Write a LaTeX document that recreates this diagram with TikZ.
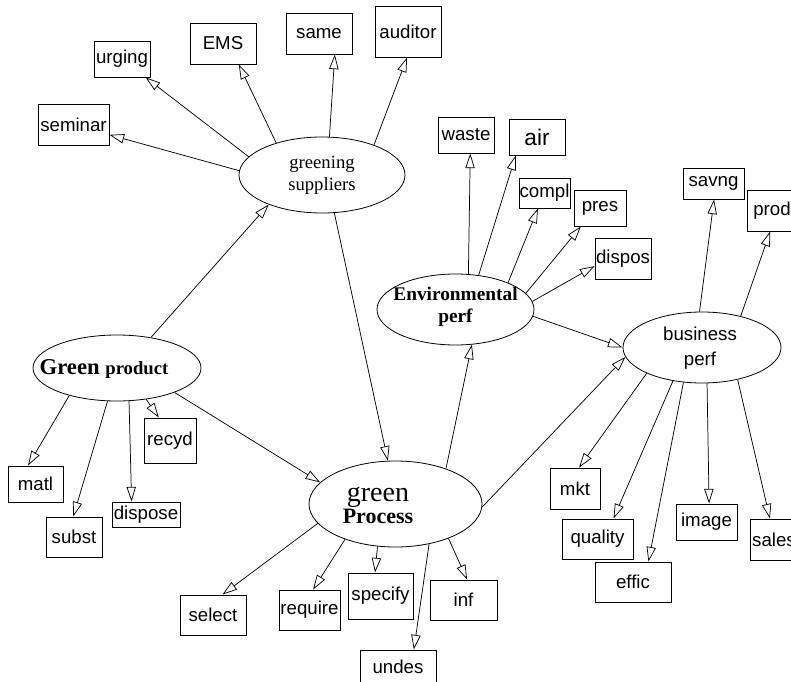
\documentclass[tikz,border=0pt]{standalone}
\usepackage{fontspec}
\setmainfont{Liberation Serif}
\setsansfont{Liberation Sans}
\usetikzlibrary{arrows.meta,shapes.geometric}

\tikzset{
  latent/.style={draw, ellipse, inner sep=0pt, line width=0.6pt},
  latentlbl/.style={align=center, inner sep=0pt, font=\fontsize{14}{16.5}\selectfont},
  item/.style={draw, rectangle, inner sep=0pt, line width=0.7pt, font=\sffamily\fontsize{14}{16}\selectfont},
  link/.style={draw, line width=0.55pt, -{Triangle[open,length=11pt,width=7pt]}}
}

\begin{document}
\begin{tikzpicture}[x=0.75pt, y=-0.75pt]

 \useasboundingbox (0,0) rectangle (791,681);

 % latent variables
 \node[latent, minimum width=124.5pt, minimum height=57pt] (gs) at (322,175) {};
 \node[latentlbl] (gstext) at (322,175) {greening\\suppliers};
 \node[latent, minimum width=117.75pt, minimum height=53.25pt] (env) at (455.5,309.5) {};
 \node[latentlbl, font=\bfseries\fontsize{14.5}{16.5}\selectfont] (envtext) at (455.5,307) {Environmental\\perf};
 \node[latent, minimum width=118.5pt, minimum height=53.25pt] (bus) at (702,347.5) {};
 \node[latentlbl, font=\sffamily\fontsize{14}{18.5}\selectfont] (bustext) at (700,348) {business\\perf};
 \node[latent, minimum width=126pt, minimum height=49.5pt] (gp) at (117,368) {};
 \node[latentlbl, font=\bfseries] (gptext) at (104,369) {\fontsize{17}{19}\selectfont Green \fontsize{14}{16}\selectfont product};
 \node[latent, minimum width=129.75pt, minimum height=64.5pt] (proc) at (395.5,504) {};
 \node[latentlbl] (proctext) at (378,505) {\fontsize{21}{17}\selectfont green\\\fontsize{16.5}{17}\selectfont\bfseries Process};

 % observed items
 \node[item, minimum width=53.25pt, minimum height=30.75pt] (seminar) at (73.5,124.5) {seminar};
 \node[item, minimum width=42pt, minimum height=27pt] (urging) at (122,59) {urging};
 \node[item, minimum width=49.5pt, minimum height=30.75pt] (ems) at (223,43.5) {EMS};
 \node[item, minimum width=49.5pt, minimum height=30.75pt] (same) at (319,33.5) {same};
 \node[item, minimum width=49.5pt, minimum height=38.25pt] (auditor) at (408,31.5) {auditor};
 \node[item, minimum width=42pt, minimum height=27pt] (waste) at (466,135) {waste};
 \node[item, minimum width=42pt, minimum height=27pt, font=\sffamily\fontsize{17}{19}\selectfont] (air) at (537,137) {air};
 \node[item, minimum width=38.25pt, minimum height=22.5pt] (compl) at (544.5,193) {compl};
 \node[item, minimum width=39pt, minimum height=27pt] (pres) at (600,208) {pres};
 \node[item, minimum width=42pt, minimum height=30.75pt] (dispos) at (623,258.5) {dispos};
 \node[item, minimum width=45.75pt, minimum height=23.25pt] (savng) at (713.5,183.5) {savng};
 \node[item, minimum width=37.5pt, minimum height=30.75pt] (prod) at (772,210.5) {prod};
 \node[item, minimum width=39pt, minimum height=33.75pt] (recyd) at (170,440.5) {recyd};
 \node[item, minimum width=41.25pt, minimum height=27pt] (matl) at (35.5,484) {matl};
 \node[item, minimum width=51pt, minimum height=18.75pt] (dispose) at (146,514.5) {dispose};
 \node[item, minimum width=42pt, minimum height=30pt] (subst) at (74,537) {subst};
 \node[item, minimum width=49.5pt, minimum height=30pt] (select) at (213,615) {select};
 \node[item, minimum width=45.75pt, minimum height=30pt] (require) at (309.5,610) {require};
 \node[item, minimum width=48.75pt, minimum height=34.5pt] (specify) at (380.5,596) {specify};
 \node[item, minimum width=50.25pt, minimum height=30pt] (inf) at (463.5,600) {inf};
 \node[item, minimum width=57pt, minimum height=24.75pt] (undes) at (398,666.5) {undes};
 \node[item, minimum width=37.5pt, minimum height=30.75pt] (mkt) at (575,488.5) {mkt};
 \node[item, minimum width=53.25pt, minimum height=30pt] (quality) at (597.5,539) {quality};
 \node[item, minimum width=57pt, minimum height=30pt] (effic) at (633,582) {effic};
 \node[item, minimum width=45.75pt, minimum height=27pt] (image) at (706.5,522) {image};
 \node[item, minimum width=36pt, minimum height=30.75pt] (sales) at (774,539.5) {sales};

 % greening suppliers
 \draw[link] (gs.177) -- (seminar.-16.5);
 \draw[link] (gs.166.5) -- (urging.-38);
 \draw[link] (gs.145.8) -- (ems.-53.8);
 \draw[link] (gs.79.6) -- (same.-53.8);
 \draw[link] (gs.30.5) -- (auditor.-92.2);
 \draw[link] (gs.-72.5) -- (proc.100.1);

 % green product
 \draw[link] (gp.42.4) -- (gs.-151.4);
 \draw[link] (gp.-150.6) -- (matl.112.6);
 \draw[link] (gp.-106.9) -- (subst.92.9);
 \draw[link] (gp.-70) -- (dispose.138.2);
 \draw[link] (gp.-47.9) -- (recyd.116);
 \draw[link] (gp.-23.6) -- (proc.164.3);

 % green process
 \draw[link] (proc.-166.6) -- (select.65.8);
 \draw[link] (proc.-145.6) -- (require.80);
 \draw[link] (proc.-113.3) -- (specify.103.4);
 \draw[link] (proc.-50.9) -- (undes.47.7);
 \draw[link] (proc.-33.7) -- (inf.80);
 \draw[link] (proc.35.1) -- (env.-65.1);
 \draw[link] (proc.-2) -- (bus.187);

 % environmental perf
 \draw[link] (env.70.6) -- (waste.-77.5);
 \draw[link] (env.56.9) -- (air.-139.4);
 \draw[link] (env.27.2) -- (compl.-113.4);
 \draw[link] (env.13.8) -- (pres.-136.5);
 \draw[link] (env.6.2) -- (dispos.-165);
 \draw[link] (env.-5.5) -- (bus.180);

 % business perf
 \draw[link] (bus.94.8) -- (savng.-88);
 \draw[link] (bus.39.8) -- (prod.-95.6);
 \draw[link] (bus.-155.7) -- (mkt.79);
 \draw[link] (bus.-131.7) -- (quality.52.2);
 \draw[link] (bus.-118.8) -- (effic.53.1);
 \draw[link] (bus.-82) -- (image.82.1);
 \draw[link] (bus.-42.1) -- (sales.101);

\end{tikzpicture}
\end{document}
